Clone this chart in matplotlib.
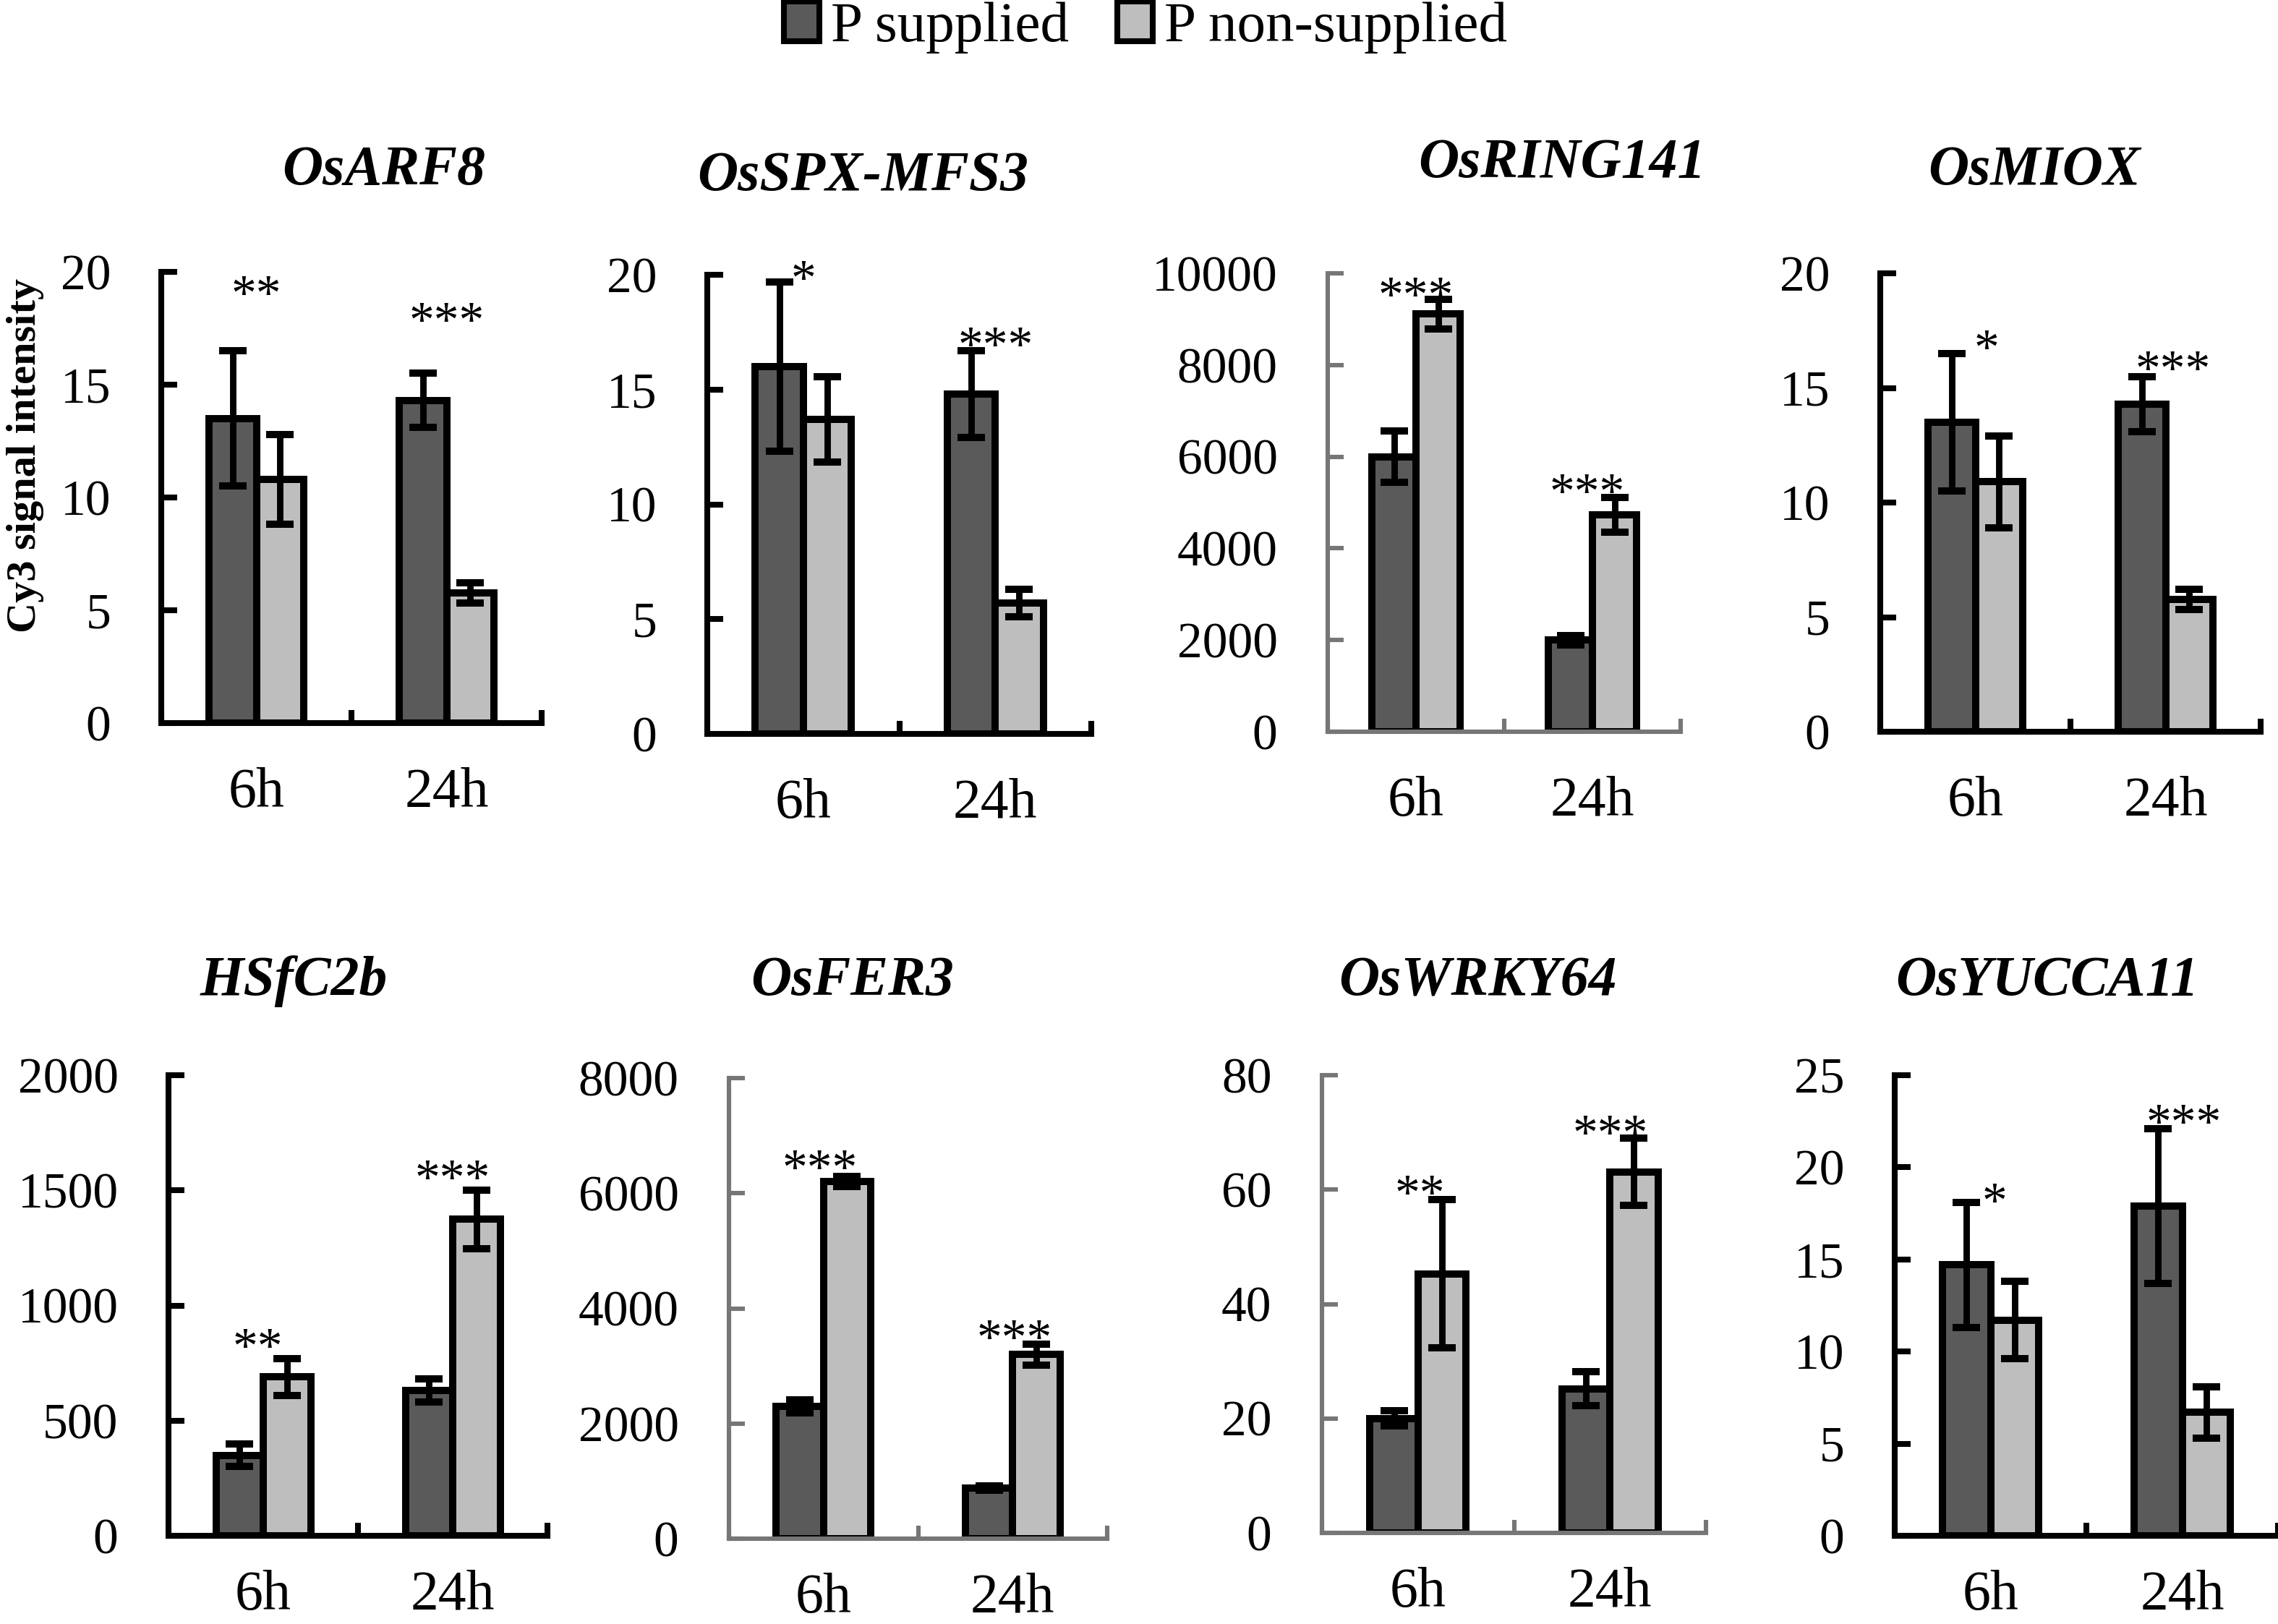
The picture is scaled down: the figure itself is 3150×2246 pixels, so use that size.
import numpy as np
import matplotlib
matplotlib.use("Agg")
import matplotlib.pyplot as plt
from matplotlib.patches import Patch

plt.rcParams['font.family'] = ['Liberation Serif', 'DejaVu Serif']

# Data
genes = ['OsARF8', 'OsSPX-MFS3', 'OsRING141', 'OsMIOX',
         'HSfC2b', 'OsFER3', 'OsWRKY64', 'OsYUCCA11']
times = ['6h', '24h']

supplied = [[13.5, 14.3], [16.0, 14.8], [6000, 2000], [13.5, 14.3],
            [350, 630], [2300, 880], [20.0, 25.2], [14.7, 17.9]]
supplied_err = [[3.0, 1.2], [3.7, 1.9], [560, 100], [3.0, 1.2],
                [50, 50], [110, 40], [1.3, 3.0], [3.4, 4.2]]
non_supplied = [[10.8, 5.76], [13.7, 5.7], [9110, 4730], [10.9, 5.77],
                [690, 1375], [6200, 3200], [45.3, 63.1], [11.7, 6.7]]
non_supplied_err = [[2.0, 0.45], [1.85, 0.6], [320, 380], [2.0, 0.45],
                    [80, 127], [90, 180], [13, 5.9], [2.1, 1.4]]

y_max = [20, 20, 10000, 20, 2000, 8000, 80, 25]
y_step = [5, 5, 2000, 5, 500, 2000, 20, 5]

# significance marks: text, x position (category units), height (data units)
star_text = [['**', '***'], ['*', '***'], ['***', '***'], ['*', '***'],
             ['**', '***'], ['***', '***'], ['**', '***'], ['*', '***']]
star_x = [[0.5, 1.5], [0.5, 1.5], [0.5, 1.47], [0.56, 1.54],
          [0.47, 1.5], [0.48, 1.51], [0.51, 1.5], [0.52, 1.51]]
star_y = [[19.4, 18.2], [20.2, 17.3], [9710, 5420], [17.1, 16.2],
          [857, 1589], [6590, 3630], [60.8, 71.3], [18.6, 22.9]]

# Layout in output pixels: left, top, right, bottom of each axes
W, H = 3150, 2246
boxes = [(223, 376, 749, 1000), (978, 380, 1509, 1015),
         (1836, 378, 2324, 1012), (2600, 378, 3126, 1012),
         (233, 1487, 757, 2124), (1008, 1491, 1531, 2128),
         (1828, 1487, 2359, 2120), (2620, 1487, 3150, 2124)]
title_pos = [(531, 255), (1193, 263), (2160, 245), (2813, 255),
             (406, 1376), (1179, 1376), (2043, 1376), (2831, 1376)]
grey_axes = [2, 5, 6]

dark = '#5a5a5a'
light = '#bebebe'

fig = plt.figure(figsize=(W / 200, H / 200), dpi=200)

for i, gene in enumerate(genes):
    l, t, r, b = boxes[i]
    ax = fig.add_axes([l / W, 1 - b / H, (r - l) / W, (b - t) / H])
    axc = '#767676' if i in grey_axes else 'black'
    alw = 2.2 if i in grey_axes else 2.9

    x = np.arange(2) + 0.5
    w = 0.25
    ax.bar(x - w / 2, supplied[i], w, color=dark, edgecolor='black',
           linewidth=3.6, zorder=2)
    ax.bar(x + w / 2, non_supplied[i], w, color=light, edgecolor='black',
           linewidth=3.6, zorder=2)
    ax.errorbar(x - w / 2, supplied[i], yerr=supplied_err[i], fmt='none',
                ecolor='black', elinewidth=3.2, capsize=6.7, capthick=3.6,
                zorder=3, clip_on=False)
    ax.errorbar(x + w / 2, non_supplied[i], yerr=non_supplied_err[i],
                fmt='none', ecolor='black', elinewidth=3.2, capsize=6.7,
                capthick=3.6, zorder=3, clip_on=False)

    for s, sx, sy in zip(star_text[i], star_x[i], star_y[i]):
        ax.annotate(s, (sx, sy), xytext=(0, -12), textcoords='offset points',
                    ha='center', va='baseline', fontsize=25,
                    annotation_clip=False)

    ax.set_xlim(0, 2)
    ax.set_ylim(0, y_max[i])
    yt = np.arange(0, y_max[i] + y_step[i] / 2, y_step[i])
    ax.set_yticks(yt, [f'{v:g}' for v in yt])
    ax.set_xticks([0, 1, 2], ['', '', ''])
    ax.set_xticks(x, times, minor=True)
    ax.tick_params(axis='x', which='major', direction='in', length=6.5,
                   width=alw, color=axc)
    ax.tick_params(axis='x', which='minor', length=0,
                   pad=22 if i < 4 else 17, labelsize=28)
    ax.tick_params(axis='y', direction='in', length=8, width=alw, color=axc,
                   pad=25, labelsize=25)
    for side in ['top', 'right']:
        ax.spines[side].set_visible(False)
    for side in ['left', 'bottom']:
        ax.spines[side].set_color(axc)
        ax.spines[side].set_linewidth(alw)
    ax.patch.set_alpha(0)

    tx, ty = title_pos[i]
    fig.text(tx / W, 1 - ty / H, gene, ha='center', va='baseline',
             fontsize=28, fontweight='bold', fontstyle='italic')

fig.text(35 / W, 1 - 630 / H, 'Cy3 signal intensity', rotation=90,
         ha='center', va='center', fontsize=21, fontweight='bold')

handles = [Patch(facecolor=dark, edgecolor='black', linewidth=2.9, label='P supplied'),
           Patch(facecolor=light, edgecolor='black', linewidth=2.9, label='P non-supplied')]
fig.legend(handles=handles, loc='upper center', bbox_to_anchor=(1584 / W, 1 - 2 / H),
           ncol=2, frameon=False, fontsize=28.5, handlelength=0.62, handleheight=0.7,
           handletextpad=0.2, columnspacing=0.85, borderpad=0, borderaxespad=0)

fig.savefig('out.png', dpi=200)
